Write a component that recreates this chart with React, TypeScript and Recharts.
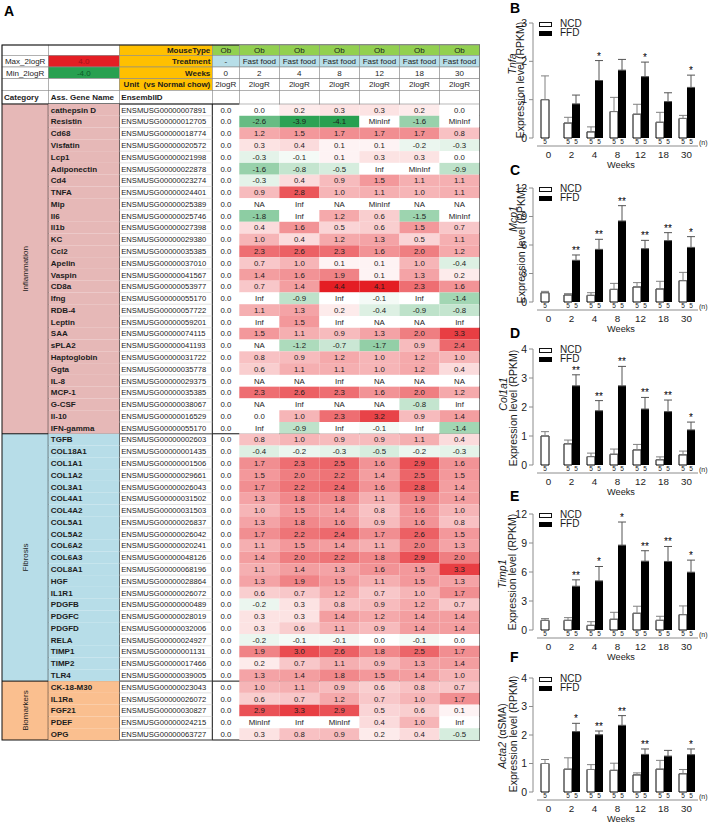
import React from 'react';
import {
  BarChart, Bar, XAxis, YAxis, ErrorBar, LabelList, Legend,
  ScatterChart, Scatter, Customized,
} from 'recharts';

const FONT = '"Liberation Sans", Arial, Helvetica, sans-serif';
const INK = '#1c1c1c';

// ---------------- panel A data ----------------
const inflammationGenes = [
  'cathepsin D', 'Resistin', 'Cd68', 'Visfatin', 'Lcp1', 'Adiponectin', 'Cd4', 'TNFA', 'Mip', 'Il6',
  'Il1b', 'KC', 'Ccl2', 'Apelin', 'Vaspin', 'CD8a', 'Ifng', 'RDB-4', 'Leptin', 'SAA',
  'sPLA2', 'Haptoglobin', 'Ggta', 'IL-8', 'MCP-1', 'G-CSF', 'Il-10', 'IFN-gamma',
];
const inflammationIds = [
  'ENSMUSG00000007891', 'ENSMUSG00000012705', 'ENSMUSG00000018774', 'ENSMUSG00000020572', 'ENSMUSG00000021998',
  'ENSMUSG00000022878', 'ENSMUSG00000023274', 'ENSMUSG00000024401', 'ENSMUSG00000025389', 'ENSMUSG00000025746',
  'ENSMUSG00000027398', 'ENSMUSG00000029380', 'ENSMUSG00000035385', 'ENSMUSG00000037010', 'ENSMUSG00000041567',
  'ENSMUSG00000053977', 'ENSMUSG00000055170', 'ENSMUSG00000057722', 'ENSMUSG00000059201', 'ENSMUSG00000074115',
  'ENSMUSG00000041193', 'ENSMUSG00000031722', 'ENSMUSG00000035778', 'ENSMUSG00000029375', 'ENSMUSG00000035385',
  'ENSMUSG00000038067', 'ENSMUSG00000016529', 'ENSMUSG00000055170',
];
const fibrosisGenes = [
  'TGFB', 'COL18A1', 'COL1A1', 'COL1A2', 'COL3A1', 'COL4A1', 'COL4A2', 'COL5A1', 'COL5A2', 'COL6A2',
  'COL6A3', 'COL8A1', 'HGF', 'IL1R1', 'PDGFB', 'PDGFC', 'PDGFD', 'RELA', 'TIMP1', 'TIMP2', 'TLR4',
];
const fibrosisIds = [
  'ENSMUSG00000002603', 'ENSMUSG00000001435', 'ENSMUSG00000001506', 'ENSMUSG00000029661', 'ENSMUSG00000026043',
  'ENSMUSG00000031502', 'ENSMUSG00000031503', 'ENSMUSG00000026837', 'ENSMUSG00000026042', 'ENSMUSG00000020241',
  'ENSMUSG00000048126', 'ENSMUSG00000068196', 'ENSMUSG00000028864', 'ENSMUSG00000026072', 'ENSMUSG00000000489',
  'ENSMUSG00000028019', 'ENSMUSG00000032006', 'ENSMUSG00000024927', 'ENSMUSG00000001131', 'ENSMUSG00000017466',
  'ENSMUSG00000039005',
];
const biomarkerGenes = ['CK-18-M30', 'IL1Ra', 'FGF21', 'PDEF', 'OPG'];
const biomarkerIds = [
  'ENSMUSG00000023043', 'ENSMUSG00000026072', 'ENSMUSG00000030827', 'ENSMUSG00000024215', 'ENSMUSG00000063727',
];

const categories = ['Inflammation', 'Fibrosis', 'Biomarkers'];
const categoryColors = ['#e6b8b7', '#b7dde8', '#fabf8f'];

const tableWeeks = ['0', '2', '4', '8', '12', '18', '30'];
const mouseTypes = ['Ob', 'Ob', 'Ob', 'Ob', 'Ob', 'Ob', 'Ob'];
const treatments = ['-', 'Fast food', 'Fast food', 'Fast food', 'Fast food', 'Fast food', 'Fast food'];
const maxLogR = 4.0;
const minLogR = -4.0;

type Val = number | string;

// 2logR values, rows in table order (inflammation / fibrosis / biomarkers)
const wk0Values: Val[] = [
  0, 0, 0, 0, 0, 0, 0, 0, 0, 0, 0, 0, 0, 0, 0, 0, 0, 0, 0, 0, 0, 0, 0, 0, 0, 0, 0, 0,
  0, 0, 0, 0, 0, 0, 0, 0, 0, 0, 0, 0, 0, 0, 0, 0, 0, 0, 0, 0, 0, 0, 0,
  0, 0, 0, 0, 0,
];
const wk2Values: Val[] = [
  0.0, -2.6, 1.2, 0.3, -0.3, -1.6, -0.3, 0.9, 'NA', -1.8, 0.4, 1.0, 2.3, 0.7, 1.4, 0.7, 'Inf', 1.1, 'Inf', 1.5, 'NA', 0.8, 0.6, 'NA', 2.3, 'NA', 0.0, 'Inf',
  0.8, -0.4, 1.7, 1.5, 1.7, 1.3, 1.0, 1.3, 1.7, 1.1, 1.4, 1.1, 1.3, 0.6, -0.2, 0.3, 0.3, -0.2, 1.9, 0.2, 1.3,
  1.0, 0.6, 2.9, 'MinInf', 0.3,
];
const wk4Values: Val[] = [
  0.2, -3.9, 1.5, 0.4, -0.1, -0.8, 0.4, 2.8, 'Inf', 'Inf', 1.6, 0.4, 2.6, 1.0, 1.6, 1.4, -0.9, 1.3, 1.5, 1.1, -1.2, 0.9, 1.1, 'NA', 2.6, 'Inf', 1.0, -0.9,
  1.0, -0.2, 2.3, 2.0, 2.2, 1.8, 1.5, 1.8, 2.2, 1.5, 2.0, 1.4, 1.9, 0.7, 0.3, 0.3, 0.6, -0.1, 3.0, 0.7, 1.4,
  1.1, 0.7, 3.3, 'Inf', 0.8,
];
const wk8Values: Val[] = [
  0.3, -4.1, 1.7, 0.1, 0.1, -0.5, 0.9, 1.0, 'NA', 1.2, 0.5, 1.2, 2.3, 0.1, 1.9, 4.4, 'Inf', 0.2, 'Inf', 0.9, -0.7, 1.2, 1.1, 'Inf', 2.3, 'NA', 2.3, 'Inf',
  0.9, -0.3, 2.5, 2.2, 2.4, 1.8, 1.4, 1.6, 2.4, 1.4, 2.2, 1.3, 1.5, 1.2, 0.8, 1.4, 1.1, -0.1, 2.6, 1.1, 1.8,
  0.9, 1.2, 2.9, 'MinInf', 0.9,
];
const wk12Values: Val[] = [
  0.3, 'MinInf', 1.7, 0.1, 0.3, 'Inf', 1.5, 1.1, 'MinInf', 0.6, 0.6, 1.3, 1.6, 0.1, 0.1, 4.1, -0.1, -0.4, 'NA', 1.3, -1.7, 1.0, 1.0, 'NA', 1.6, 'NA', 3.2, -0.1,
  0.9, -0.5, 1.6, 1.4, 1.6, 1.1, 0.8, 0.9, 1.7, 1.1, 1.8, 1.6, 1.1, 0.7, 0.9, 1.2, 0.9, 0.0, 1.8, 0.9, 1.5,
  0.6, 0.7, 0.5, 0.4, 0.2,
];
const wk18Values: Val[] = [
  0.2, -1.6, 1.7, -0.2, 0.3, 'MinInf', 1.1, 1.0, 'NA', -1.5, 1.5, 0.5, 2.0, 1.0, 1.3, 2.3, 'Inf', -0.9, 'NA', 2.0, 0.9, 1.2, 1.2, 'NA', 2.0, -0.8, 0.9, 'Inf',
  1.1, -0.2, 2.9, 2.5, 2.8, 1.9, 1.6, 1.6, 2.6, 2.0, 2.9, 1.5, 1.5, 1.0, 1.2, 1.4, 1.4, -0.1, 2.5, 1.3, 1.4,
  0.8, 1.0, 0.6, 1.0, 0.4,
];
const wk30Values: Val[] = [
  0.0, 'MinInf', 0.8, -0.3, 0.0, -0.9, 1.1, 1.1, 'NA', 'MinInf', 0.7, 1.1, 1.2, -0.4, 0.2, 1.6, -1.4, -0.8, 'Inf', 3.3, 2.4, 1.0, 0.4, 'NA', 1.2, 'Inf', 1.4, -1.4,
  0.4, -0.3, 1.6, 1.5, 1.4, 1.4, 1.0, 0.8, 1.5, 1.3, 2.0, 3.3, 1.3, 1.7, 0.7, 1.4, 1.4, 0.0, 1.7, 1.4, 1.0,
  0.7, 1.7, 0.1, 'Inf', -0.5,
];

const genes = [...inflammationGenes, ...fibrosisGenes, ...biomarkerGenes];
const ensemblIds = [...inflammationIds, ...fibrosisIds, ...biomarkerIds];
const categorySizes = [inflammationGenes.length, fibrosisGenes.length, biomarkerGenes.length];
const rowCategory = genes.map((_, r) =>
  r < categorySizes[0] ? 0 : r < categorySizes[0] + categorySizes[1] ? 1 : 2);
const heatColumns = [wk2Values, wk4Values, wk8Values, wk12Values, wk18Values, wk30Values];
const heatData = heatColumns.flatMap((col, c) => col.map((v, r) => ({ col: c, row: r, v })));
const rowTicks = genes.map((_, r) => r);
const colTicks = heatColumns.map((_, c) => c);

// ---------------- panels B-F data ----------------
const weeks = ['0', '2', '4', '8', '12', '18', '30'];
const nNcd = [5, 5, 5, 5, 5, 5, 5];
const nFfd = [null, 5, 5, 5, 5, 5, 5];

const tnfaNcd = [1.0, 0.39, 0.16, 0.69, 0.62, 0.41, 0.51];
const tnfaNcdErr = [0.62, 0.15, 0.13, 0.37, 0.26, 0.26, 0.08];
const tnfaFfd = [null, 0.89, 1.5, 1.77, 1.6, 0.95, 1.32];
const tnfaFfdErr = [null, 0.23, 0.52, 0.28, 0.38, 0.23, 0.32];
const tnfaSig = ['', '', '*', '', '*', '', '*'];
const tnfaTicks = [0, 1, 2, 3];

const mcp1Ncd = [0.98, 0.74, 0.7, 1.33, 1.58, 1.37, 2.25];
const mcp1NcdErr = [0.14, 0.14, 0.28, 0.63, 0.46, 0.81, 0.87];
const mcp1Ffd = [null, 4.39, 5.54, 8.53, 5.61, 6.46, 5.75];
const mcp1FfdErr = [null, 0.56, 1.06, 1.61, 0.88, 0.84, 1.13];
const mcp1Sig = ['', '**', '**', '**', '**', '**', '*'];
const mcp1Ticks = [0, 3, 6, 9, 12];

const col1a1Ncd = [1.0, 0.73, 0.29, 0.37, 0.52, 0.18, 0.35];
const col1a1NcdErr = [0.15, 0.13, 0.12, 0.18, 0.19, 0.1, 0.13];
const col1a1Ffd = [null, 2.73, 1.87, 2.73, 1.93, 1.84, 1.21];
const col1a1FfdErr = [null, 0.38, 0.35, 0.67, 0.4, 0.4, 0.27];
const col1a1Sig = ['', '**', '**', '**', '**', '**', '*'];
const col1a1Ticks = [0, 1, 2, 3, 4];

const timp1Ncd = [1.0, 1.0, 0.48, 1.11, 1.73, 1.0, 1.59];
const timp1NcdErr = [0.18, 0.28, 0.38, 0.72, 0.73, 0.42, 0.9];
const timp1Ffd = [null, 4.53, 5.08, 8.78, 7.12, 7.09, 5.98];
const timp1FfdErr = [null, 0.66, 1.49, 2.39, 1.08, 1.55, 1.25];
const timp1Sig = ['', '**', '*', '*', '**', '**', '*'];
const timp1Ticks = [0, 3, 6, 9, 12];

const acta2Ncd = [1.0, 0.8, 0.79, 0.76, 0.6, 0.8, 0.64];
const acta2NcdErr = [0.14, 0.4, 0.17, 0.25, 0.07, 0.31, 0.15];
const acta2Ffd = [null, 2.12, 2.01, 2.34, 1.32, 1.26, 1.31];
const acta2FfdErr = [null, 0.29, 0.13, 0.34, 0.19, 0.2, 0.2];
const acta2Sig = ['', '*', '**', '**', '**', '', '*'];
const acta2Ticks = [0, 1, 2, 3, 4];

// ---------------- layout ----------------
const TX = [2, 48.3, 119.3, 212.3, 239.3, 479.5]; // table column edges
const HY = [45, 55.3, 67, 78.6, 90.3, 104];        // header row edges
const A_TOP = 104;
const A_BOTTOM = 740;
const A_W = 482;
const A_H = 742;
const RH = (A_BOTTOM - A_TOP) / genes.length;
const CW = (TX[5] - TX[4]) / heatColumns.length;
const GRID = '#8a8a8a';

const RED = [228, 30, 36];
const GREEN = [40, 160, 80];
function heatColor(v: number) {
  const t = Math.pow(Math.min(Math.abs(v) / 4, 1), 0.8);
  const c = v >= 0 ? RED : GREEN;
  const m = (a: number) => Math.round(255 - t * (255 - a));
  return `rgb(${m(c[0])},${m(c[1])},${m(c[2])})`;
}
const fmt = (v: Val) => (typeof v === 'number' ? v.toFixed(1) : v);

function HeaderColumn({ x0, w, i }: { x0: number; w: number; i: number }) {
  const cells = [
    { fill: '#92d050', text: mouseTypes[i] },
    { fill: '#b7dee8', text: treatments[i] },
    { fill: '#fff', text: tableWeeks[i] },
    { fill: '#fff', text: '2logR' },
    { fill: '#fff', text: '' },
  ];
  return (
    <g fontFamily={FONT}>
      {cells.map((c, k) => (
        <g key={k}>
          <rect x={x0} y={HY[k]} width={w} height={HY[k + 1] - HY[k]} fill={c.fill} stroke={GRID} strokeWidth={0.6} />
          {c.text ? (
            <text x={x0 + w / 2} y={(HY[k] + HY[k + 1]) / 2 + 2.9} textAnchor="middle" fontSize={8} fill={INK}>
              {c.text}
            </text>
          ) : null}
        </g>
      ))}
    </g>
  );
}

const HeatHeaderTick = (props: any) => {
  const c = Number(props.payload.value);
  return <HeaderColumn x0={Number(props.x) - CW / 2} w={CW} i={c + 1} />;
};

const RowTick = (props: any) => {
  const r = Number(props.payload.value);
  const y = Number(props.y);
  const top = y - RH / 2;
  const ty = y + 2.8;
  return (
    <g fontFamily={FONT}>
      <rect x={TX[1]} y={top} width={TX[2] - TX[1]} height={RH} fill={categoryColors[rowCategory[r]]} />
      <line x1={TX[2]} x2={TX[3]} y1={top + RH} y2={top + RH} stroke="#cdcdcd" strokeWidth={0.6} />
      <text x={TX[1] + 2.5} y={ty} fontSize={8} fontWeight="bold" fill={INK}>{genes[r]}</text>
      <text x={TX[2] + 2} y={ty} fontSize={7.6} fill={INK}>{ensemblIds[r]}</text>
      <text x={(TX[3] + TX[4]) / 2} y={ty} fontSize={7.8} textAnchor="middle" fill={INK}>{fmt(wk0Values[r])}</text>
    </g>
  );
};

const HeatCell = (props: any) => {
  const { cx, cy, payload } = props;
  const v: Val = payload.v;
  const fill = typeof v === 'number' ? heatColor(v) : '#ffffff';
  return (
    <g>
      <rect x={cx - CW / 2} y={cy - RH / 2} width={CW} height={RH} fill={fill} />
      <text x={cx} y={cy + 2.8} textAnchor="middle" fontSize={7.8} fontFamily={FONT} fill={INK}>{fmt(v)}</text>
    </g>
  );
};

function TableFrame() {
  const labelRows = [
    { a: '', b: '', bFill: '#fff', bInk: INK, c: 'MouseType' },
    { a: 'Max_2logR', b: maxLogR.toFixed(1), bFill: heatColor(maxLogR), bInk: '#a3121a', c: 'Treatment' },
    { a: 'Min_2logR', b: minLogR.toFixed(1), bFill: heatColor(minLogR), bInk: '#0d5a27', c: 'Weeks' },
    { a: '', b: '', bFill: '#fff', bInk: INK, c: 'Unit\u00a0 (vs Normal chow)' },
  ];
  let start = 0;
  const blocks = categories.map((name, k) => {
    const y0 = A_TOP + start * RH;
    const h = categorySizes[k] * RH;
    start += categorySizes[k];
    return { name, y0, h, color: categoryColors[k] };
  });
  const cx1 = (TX[0] + TX[1]) / 2;
  return (
    <g fontFamily={FONT}>
      {labelRows.map((r, k) => {
        const my = (HY[k] + HY[k + 1]) / 2 + 2.9;
        return (
          <g key={k}>
            <rect x={TX[0]} y={HY[k]} width={TX[1] - TX[0]} height={HY[k + 1] - HY[k]} fill="#fff" stroke={GRID} strokeWidth={0.6} />
            <rect x={TX[1]} y={HY[k]} width={TX[2] - TX[1]} height={HY[k + 1] - HY[k]} fill={r.bFill} stroke={GRID} strokeWidth={0.6} />
            <rect x={TX[2]} y={HY[k]} width={TX[3] - TX[2]} height={HY[k + 1] - HY[k]} fill="#ffc000" stroke={GRID} strokeWidth={0.6} />
            {r.a ? <text x={cx1} y={my} textAnchor="middle" fontSize={8} fill={INK}>{r.a}</text> : null}
            {r.b ? <text x={(TX[1] + TX[2]) / 2} y={my} textAnchor="middle" fontSize={8} fill={r.bInk}>{r.b}</text> : null}
            <text x={TX[3] - 2} y={my} textAnchor="end" fontSize={8} fontWeight="bold" fill={INK}>{r.c}</text>
          </g>
        );
      })}
      {[TX[0], TX[1], TX[2]].map((x, k) => (
        <rect key={k} x={x} y={HY[4]} width={TX[k + 1] - x} height={HY[5] - HY[4]} fill="#fff" stroke={GRID} strokeWidth={0.6} />
      ))}
      <text x={TX[0] + 2} y={(HY[4] + HY[5]) / 2 + 2.9} fontSize={8} fontWeight="bold" fill={INK}>Category</text>
      <text x={TX[1] + 2.5} y={(HY[4] + HY[5]) / 2 + 2.9} fontSize={8} fontWeight="bold" fill={INK}>Ass. Gene Name</text>
      <text x={TX[2] + 2} y={(HY[4] + HY[5]) / 2 + 2.9} fontSize={8} fontWeight="bold" fill={INK}>EnsemblID</text>
      <HeaderColumn x0={TX[3]} w={TX[4] - TX[3]} i={0} />

      {blocks.map((b) => (
        <g key={b.name}>
          <rect x={TX[0]} y={b.y0} width={TX[1] - TX[0]} height={b.h} fill={b.color} />
          <text
            x={cx1 + 2.9}
            y={b.y0 + b.h / 2}
            transform={`rotate(-90 ${cx1 + 2.9} ${b.y0 + b.h / 2})`}
            textAnchor="middle"
            fontSize={8}
            fill={INK}
          >
            {b.name}
          </text>
          <line x1={TX[0]} x2={TX[5]} y1={b.y0} y2={b.y0} stroke="#111" strokeWidth={1} />
        </g>
      ))}
      {[TX[1], TX[2], TX[3]].map((x) => (
        <line key={x} x1={x} x2={x} y1={A_TOP} y2={A_BOTTOM} stroke="#111" strokeWidth={1} />
      ))}
      <rect x={TX[0]} y={HY[0]} width={TX[5] - TX[0]} height={A_BOTTOM - HY[0]} fill="none" stroke="#111" strokeWidth={1} />
    </g>
  );
}

function HeatTable() {
  return (
    <div style={{ position: 'absolute', left: 0, top: 0 }}>
      <ScatterChart
        width={A_W}
        height={A_H}
        margin={{ top: HY[0], right: A_W - TX[5], bottom: A_H - A_BOTTOM, left: 0 }}
      >
        <XAxis
          type="number"
          dataKey="col"
          orientation="top"
          domain={[-0.5, heatColumns.length - 0.5]}
          ticks={colTicks}
          interval={0}
          height={A_TOP - HY[0]}
          axisLine={false}
          tickLine={false}
          tickSize={0}
          tickMargin={0}
          tick={HeatHeaderTick}
        />
        <YAxis
          type="number"
          dataKey="row"
          domain={[-0.5, genes.length - 0.5]}
          ticks={rowTicks}
          interval={0}
          reversed
          width={TX[4]}
          axisLine={false}
          tickLine={false}
          tickSize={0}
          tickMargin={0}
          tick={RowTick}
        />
        <Scatter data={heatData} shape={HeatCell} isAnimationActive={false} />
        <Customized component={TableFrame} />
      </ScatterChart>
    </div>
  );
}

// ---------------- bar panels ----------------
const B_LEFT = 488;
const B_W = 220;
const B_MARGIN_R = 10;
const B_YAXIS_W = 45;
const B_PAD_L = 4;
const BAND = (B_W - B_MARGIN_R - B_YAXIS_W - B_PAD_L) / weeks.length;
const B_MARGIN_T = 20;
const B_XAXIS_H = 30;

const barPanels = [
  { letter: 'B', gene: 'Tnfa', suffix: '', ncd: tnfaNcd, ncdErr: tnfaNcdErr, ffd: tnfaFfd, ffdErr: tnfaFfdErr, sig: tnfaSig, ticks: tnfaTicks,
    plotTop: 23, base: 138, geneX: 516, geneY: 64, exprX: 524, exprY: 80, letterY: 13 },
  { letter: 'C', gene: 'Mcp1', suffix: '', ncd: mcp1Ncd, ncdErr: mcp1NcdErr, ffd: mcp1Ffd, ffdErr: mcp1FfdErr, sig: mcp1Sig, ticks: mcp1Ticks,
    plotTop: 188, base: 302, geneX: 516.5, geneY: 219, exprX: 524.5, exprY: 245, letterY: 175 },
  { letter: 'D', gene: 'Col1a1', suffix: '', ncd: col1a1Ncd, ncdErr: col1a1NcdErr, ffd: col1a1Ffd, ffdErr: col1a1FfdErr, sig: col1a1Sig, ticks: col1a1Ticks,
    plotTop: 349, base: 465, geneX: 507, geneY: 394, exprX: 517, exprY: 408, letterY: 338 },
  { letter: 'E', gene: 'Timp1', suffix: '', ncd: timp1Ncd, ncdErr: timp1NcdErr, ffd: timp1Ffd, ffdErr: timp1FfdErr, sig: timp1Sig, ticks: timp1Ticks,
    plotTop: 514, base: 630, geneX: 505.5, geneY: 574, exprX: 516, exprY: 572, letterY: 501 },
  { letter: 'F', gene: 'Acta2', suffix: ' (\u03b1SMA)', ncd: acta2Ncd, ncdErr: acta2NcdErr, ffd: acta2Ffd, ffdErr: acta2FfdErr, sig: acta2Sig, ticks: acta2Ticks,
    plotTop: 678, base: 792, geneX: 505.5, geneY: 736, exprX: 516.5, exprY: 734, letterY: 662 },
];

const labelBox = (p: any) => {
  const src = p.viewBox && p.viewBox.width != null ? p.viewBox : p;
  const y = Number(src.y);
  const h = Number(src.height);
  return { x: Number(src.x), w: Number(src.width), top: Math.min(y, y + h), h: Math.abs(h) };
};

const NLabel = (p: any) => {
  if (p.value == null) return null;
  const b = labelBox(p);
  return (
    <text x={Math.round(b.x + b.w / 2)} y={b.top + b.h + 6.2} textAnchor="middle" fontSize={6.5} fontFamily={FONT} fill={INK}>
      {p.value}
    </text>
  );
};

const WeekTick = (props: any) => {
  const x = Number(props.x);
  const y = Number(props.y);
  const last = props.index === weeks.length - 1;
  return (
    <g fontFamily={FONT}>
      <line x1={x - BAND / 2} x2={x + BAND / 2} y1={y + 8} y2={y + 8} stroke="#8c8c8c" strokeWidth={1} />
      <text x={x} y={y + 20} textAnchor="middle" fontSize={9.8} fill={INK}>{props.payload.value}</text>
      {last ? <text x={x + BAND / 2 + 1} y={y + 7} fontSize={7} fill={INK}>(n)</text> : null}
    </g>
  );
};

const BarLegend = () => (
  <div style={{ position: 'relative', width: 80, height: 20, fontFamily: FONT, fontSize: 10, color: INK }}>
    <div style={{ position: 'absolute', left: 0, top: 0, width: 11, height: 3, border: '1px solid #111', background: '#fff' }} />
    <div style={{ position: 'absolute', left: 21, top: -2.2, lineHeight: '8.5px', whiteSpace: 'nowrap' }}>NCD</div>
    <div style={{ position: 'absolute', left: 0, top: 9, width: 13, height: 5, background: '#000' }} />
    <div style={{ position: 'absolute', left: 21, top: 7.2, lineHeight: '8.5px', whiteSpace: 'nowrap' }}>FFD</div>
  </div>
);

function ExprPanel({ p }: { p: (typeof barPanels)[number] }) {
  const chartTop = p.plotTop - B_MARGIN_T;
  const height = p.base - p.plotTop + B_MARGIN_T + B_XAXIS_H;
  const data = weeks.map((w, i) => ({
    week: w,
    idx: i,
    ncd: p.ncd[i],
    ncdErr: [0, p.ncdErr[i]],
    ffd: p.ffd[i],
    ffdErr: p.ffd[i] == null ? null : [0, p.ffdErr[i] as number],
    nN: nNcd[i],
    nF: nFfd[i],
  }));

  const StarLabel = (lp: any) => {
    const i = Number(lp.value);
    const mean = p.ffd[i];
    const err = p.ffdErr[i];
    if (!p.sig[i] || mean == null || err == null) return null;
    const b = labelBox(lp);
    const errTop = b.top - (err * b.h) / mean;
    return (
      <text
        x={Math.round(b.x + b.w / 2)}
        y={Math.round(errTop - 1)}
        textAnchor="middle"
        fontSize={10}
        fontFamily={FONT}
        fill="#000"
        stroke="none"
      >
        {p.sig[i]}
      </text>
    );
  };

  const YLabel = () => {
    const gx = p.geneX - B_LEFT;
    const gy = p.geneY - chartTop;
    const ex = p.exprX - B_LEFT;
    const ey = p.exprY - chartTop;
    return (
      <g fontFamily={FONT} fontSize={10.5} fill={INK}>
        <text x={gx} y={gy} transform={`rotate(-90 ${gx} ${gy})`} textAnchor="middle">
          <tspan fontStyle="italic">{p.gene}</tspan>
          {p.suffix ? <tspan>{p.suffix}</tspan> : null}
        </text>
        <text x={ex} y={ey} transform={`rotate(-90 ${ex} ${ey})`} textAnchor="middle">
          Expression level (RPKM)
        </text>
      </g>
    );
  };

  const XLabel = () => (
    <text x={621 - B_LEFT} y={p.base - chartTop + 29.5} textAnchor="middle" fontSize={9.2} fontFamily={FONT} fill={INK}>
      Weeks
    </text>
  );

  return (
    <div style={{ position: 'absolute', left: B_LEFT, top: chartTop }}>
      <BarChart
        width={B_W}
        height={height}
        data={data}
        margin={{ top: B_MARGIN_T, right: B_MARGIN_R, bottom: 0, left: 0 }}
        barGap={0}
        barSize={8}
      >
        <XAxis
          dataKey="week"
          height={B_XAXIS_H}
          axisLine={false}
          tickLine={false}
          tickSize={0}
          tickMargin={0}
          padding={{ left: B_PAD_L, right: 0 }}
          interval={0}
          tick={WeekTick}
          label={XLabel}
        />
        <YAxis
          width={B_YAXIS_W}
          domain={[0, p.ticks[p.ticks.length - 1]]}
          ticks={p.ticks}
          interval={0}
          axisLine={{ stroke: '#8c8c8c' }}
          tickLine={{ stroke: '#8c8c8c' }}
          tickSize={4}
          tickMargin={2}
          tick={{ fontSize: 10.5, fill: INK, fontFamily: FONT }}
          label={YLabel}
        />
        <Legend
          layout="horizontal"
          verticalAlign="middle"
          align="center"
          content={BarLegend}
          wrapperStyle={{ position: 'absolute', top: p.plotTop - chartTop - 1, left: 51, width: 80, height: 20 }}
        />
        <Bar dataKey="ncd" fill="#ffffff" stroke="#000" strokeWidth={1} isAnimationActive={false}>
          <ErrorBar dataKey="ncdErr" width={4} stroke="#808080" strokeWidth={1} isAnimationActive={false} />
          <LabelList dataKey="nN" content={NLabel} />
        </Bar>
        <Bar dataKey="ffd" fill="#000000" isAnimationActive={false}>
          <ErrorBar dataKey="ffdErr" width={4} stroke="#555" strokeWidth={1} isAnimationActive={false} />
          <LabelList dataKey="nF" content={NLabel} />
          <LabelList dataKey="idx" content={StarLabel} />
        </Bar>
      </BarChart>
    </div>
  );
}

export default function App() {
  return (
    <div
      style={{
        position: 'absolute', left: 0, top: 0, width: 708, height: 822,
        background: '#fff', overflow: 'hidden', fontFamily: FONT,
      }}
    >
      <svg width={708} height={822} style={{ position: 'absolute', left: 0, top: 0 }}>
        <text x={4} y={15.5} fontSize={14} fontWeight="bold" fontFamily={FONT} fill="#000">A</text>
        {barPanels.map((p) => (
          <text key={p.letter} x={510} y={p.letterY} fontSize={14} fontWeight="bold" fontFamily={FONT} fill="#000">
            {p.letter}
          </text>
        ))}
      </svg>
      <HeatTable />
      {barPanels.map((p) => (
        <ExprPanel key={p.letter} p={p} />
      ))}
    </div>
  );
}
